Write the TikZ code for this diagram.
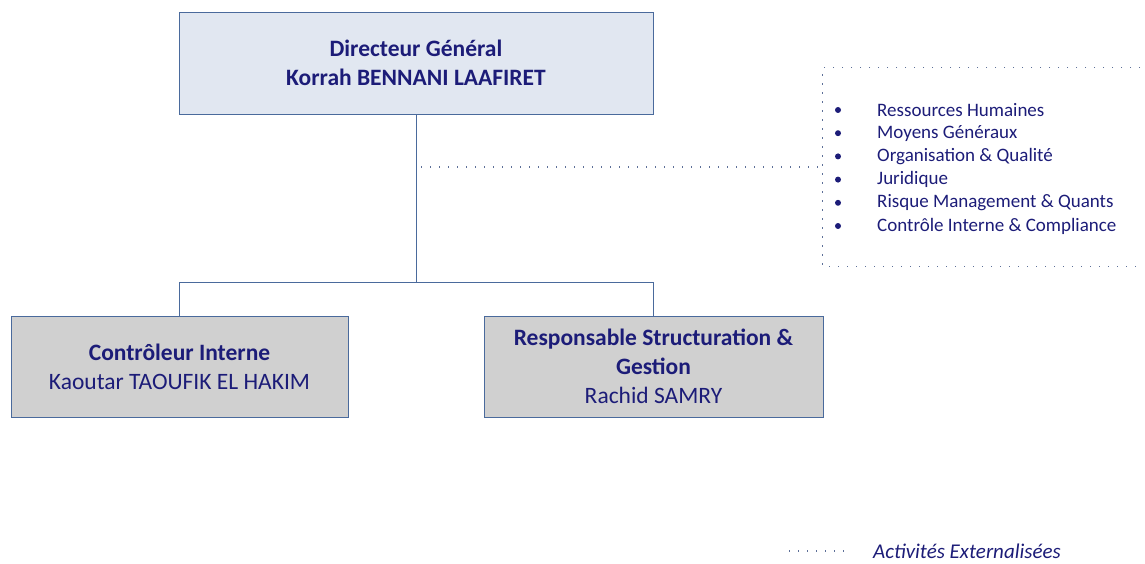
\documentclass[tikz,border=0pt]{standalone}
\usepackage{fontspec}
\setmainfont{Carlito}
\usetikzlibrary{positioning,calc}
\definecolor{ink}{HTML}{1C1C78}
\definecolor{frame}{HTML}{4A6A9C}
\definecolor{dots}{HTML}{5C6F98}
\definecolor{soft}{HTML}{E1E7F1}
\definecolor{grey}{HTML}{D0D0D0}
\tikzset{
  box/.style={draw=frame,line width=.9pt,fill=soft,align=center,text=ink,inner sep=0pt,
    font=\fontsize{23.5}{29}\selectfont},
  boxg/.style={box,fill=grey},
  link/.style={draw=frame,line width=.9pt},
  dotline/.style={draw=dots,line width=1.3pt,dash pattern=on 1.3pt off 7.7pt},
  item/.style={anchor=west,text=ink,inner sep=0pt,font=\fontsize{19}{22}\selectfont},
  blt/.style={circle,fill=ink,inner sep=0pt,minimum size=6pt},
}
\begin{document}
\begin{tikzpicture}[x=1pt,y=-1pt]
  \useasboundingbox (0,0) rectangle (1145,564);
  \node[box,minimum width=474pt,minimum height=102pt] (dg) at (416,63) {\textbf{Directeur Général}\\\textbf{Korrah BENNANI LAAFIRET}};
  \node[boxg,minimum width=337pt,minimum height=101pt] (ci) at (179.5,366.5) {\textbf{Contrôleur Interne}\\Kaoutar TAOUFIK EL HAKIM};
  \node[boxg,minimum width=339pt,minimum height=101pt] (rs) at (653.5,366.5) {\textbf{Responsable Structuration \&}\\\textbf{Gestion}\\Rachid SAMRY};
  \coordinate (fork) at (416,282);
  \draw[link] (dg.south) -- (fork) -| (ci.north);
  \draw[link] (fork) -| (rs.north);
  % externalised activities
  \node[minimum width=317pt,minimum height=198pt,inner sep=0pt] (ext) at (981.5,167) {};
  \draw[dotline] (ext.north east) -- (ext.north west) -- (ext.south west) -- (ext.south east);
  \draw[dotline] ([xshift=5pt]dg.south |- ext.west) -- (ext.west);
  \foreach \t [count=\i] in {Ressources Humaines,Moyens Généraux,Organisation \& Qualité,Juridique,Risque Management \& Quants,Contrôle Interne \& Compliance} {
    \node[blt] (b\i) at (838,{110+23.2*(\i-1)}) {};
    \node[item] (it\i) at (877,{110+23.2*(\i-1)}) {\t};
  }
  % legend
  \coordinate (lg) at (789,551);
  \draw[dotline] (lg) -- ++(62,0);
  \node[item,font=\fontsize{21}{22}\selectfont\itshape] (lgt) at (873,551) {Activités Externalisées};
\end{tikzpicture}
\end{document}
